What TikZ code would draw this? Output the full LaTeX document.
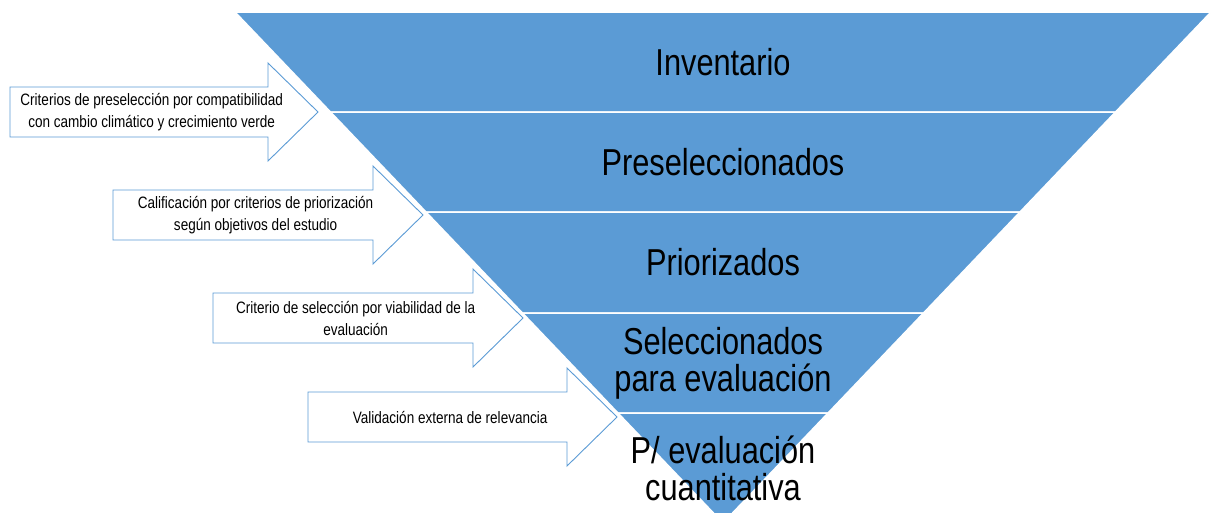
\documentclass[tikz,border=0pt]{standalone}
\usepackage{fontspec}
\setmainfont{Liberation Sans}[FakeStretch=0.82]
\definecolor{funnelblue}{HTML}{5B9BD5}
\tikzset{
  pics/band/.style args={#1/#2/#3}{% #1=distance to apex, #2=height, #3=label
    code = {
      \coordinate (-tl) at (-0.955*#1, 0);
      \coordinate (-tr) at (0.955*#1, 0);
      \coordinate (-br) at (0.955*#1-0.955*#2, #2);
      \coordinate (-bl) at (-0.955*#1+0.955*#2, #2);
      \path[fill=funnelblue, draw=white, line width=1.5pt] (-tl) -- (-tr) -- (-br) -- (-bl) -- cycle;
      \node[font=\fontsize{37.5}{37}\selectfont, align=center] (-label) at (0, #2/2) {#3};
}}}
\tikzset{
  pics/blockarrow/.style args={#1/#2}{% #1=length, #2=text
    code = {
      \coordinate (-tail) at (0, 0);
      \coordinate (-tip) at (#1, 0);
      \path[fill=white, draw=funnelblue, line width=0.9pt] (-tail) ++(0,-25) -- (#1-50,-25) -- (#1-50,-49)
        -- (-tip) -- (#1-50,49) -- (#1-50,25) -- (0,25) -- cycle;
      \node[font=\fontsize{16.5}{22}\selectfont, align=center] (-label) at (0.46*#1, 0) {#2};
}}}

\begin{document}
\begin{tikzpicture}[x=1pt, y=-1pt]
  \useasboundingbox (0,0) rectangle (1211,512);
  % funnel
  \pic (band1) at (723, 12) {band={511/100/Inventario}};
  \pic (band2) at (723, 112) {band={411/100/Preseleccionados}};
  \pic (band3) at (723, 212) {band={311/101/Priorizados}};
  \pic (band4) at (723, 313) {band={210/100/{Seleccionados\\para evaluación}}};
  \pic (band5) at (723, 413) {band={110/110/{P/ evaluación\\cuantitativa}}};
  % criteria arrows
  \pic (arrow1) at (10, 112) {blockarrow={308/{Criterios de preselección por compatibilidad\\con cambio climático y crecimiento verde}}};
  \pic (arrow2) at (113, 215) {blockarrow={310/{Calificación por criterios de priorización\\según objetivos del estudio}}};
  \pic (arrow3) at (213, 318) {blockarrow={310/{Criterio de selección por viabilidad de la\\evaluación}}};
  \pic (arrow4) at (308, 417) {blockarrow={309/{Validación externa de relevancia}}};
\end{tikzpicture}
\end{document}
